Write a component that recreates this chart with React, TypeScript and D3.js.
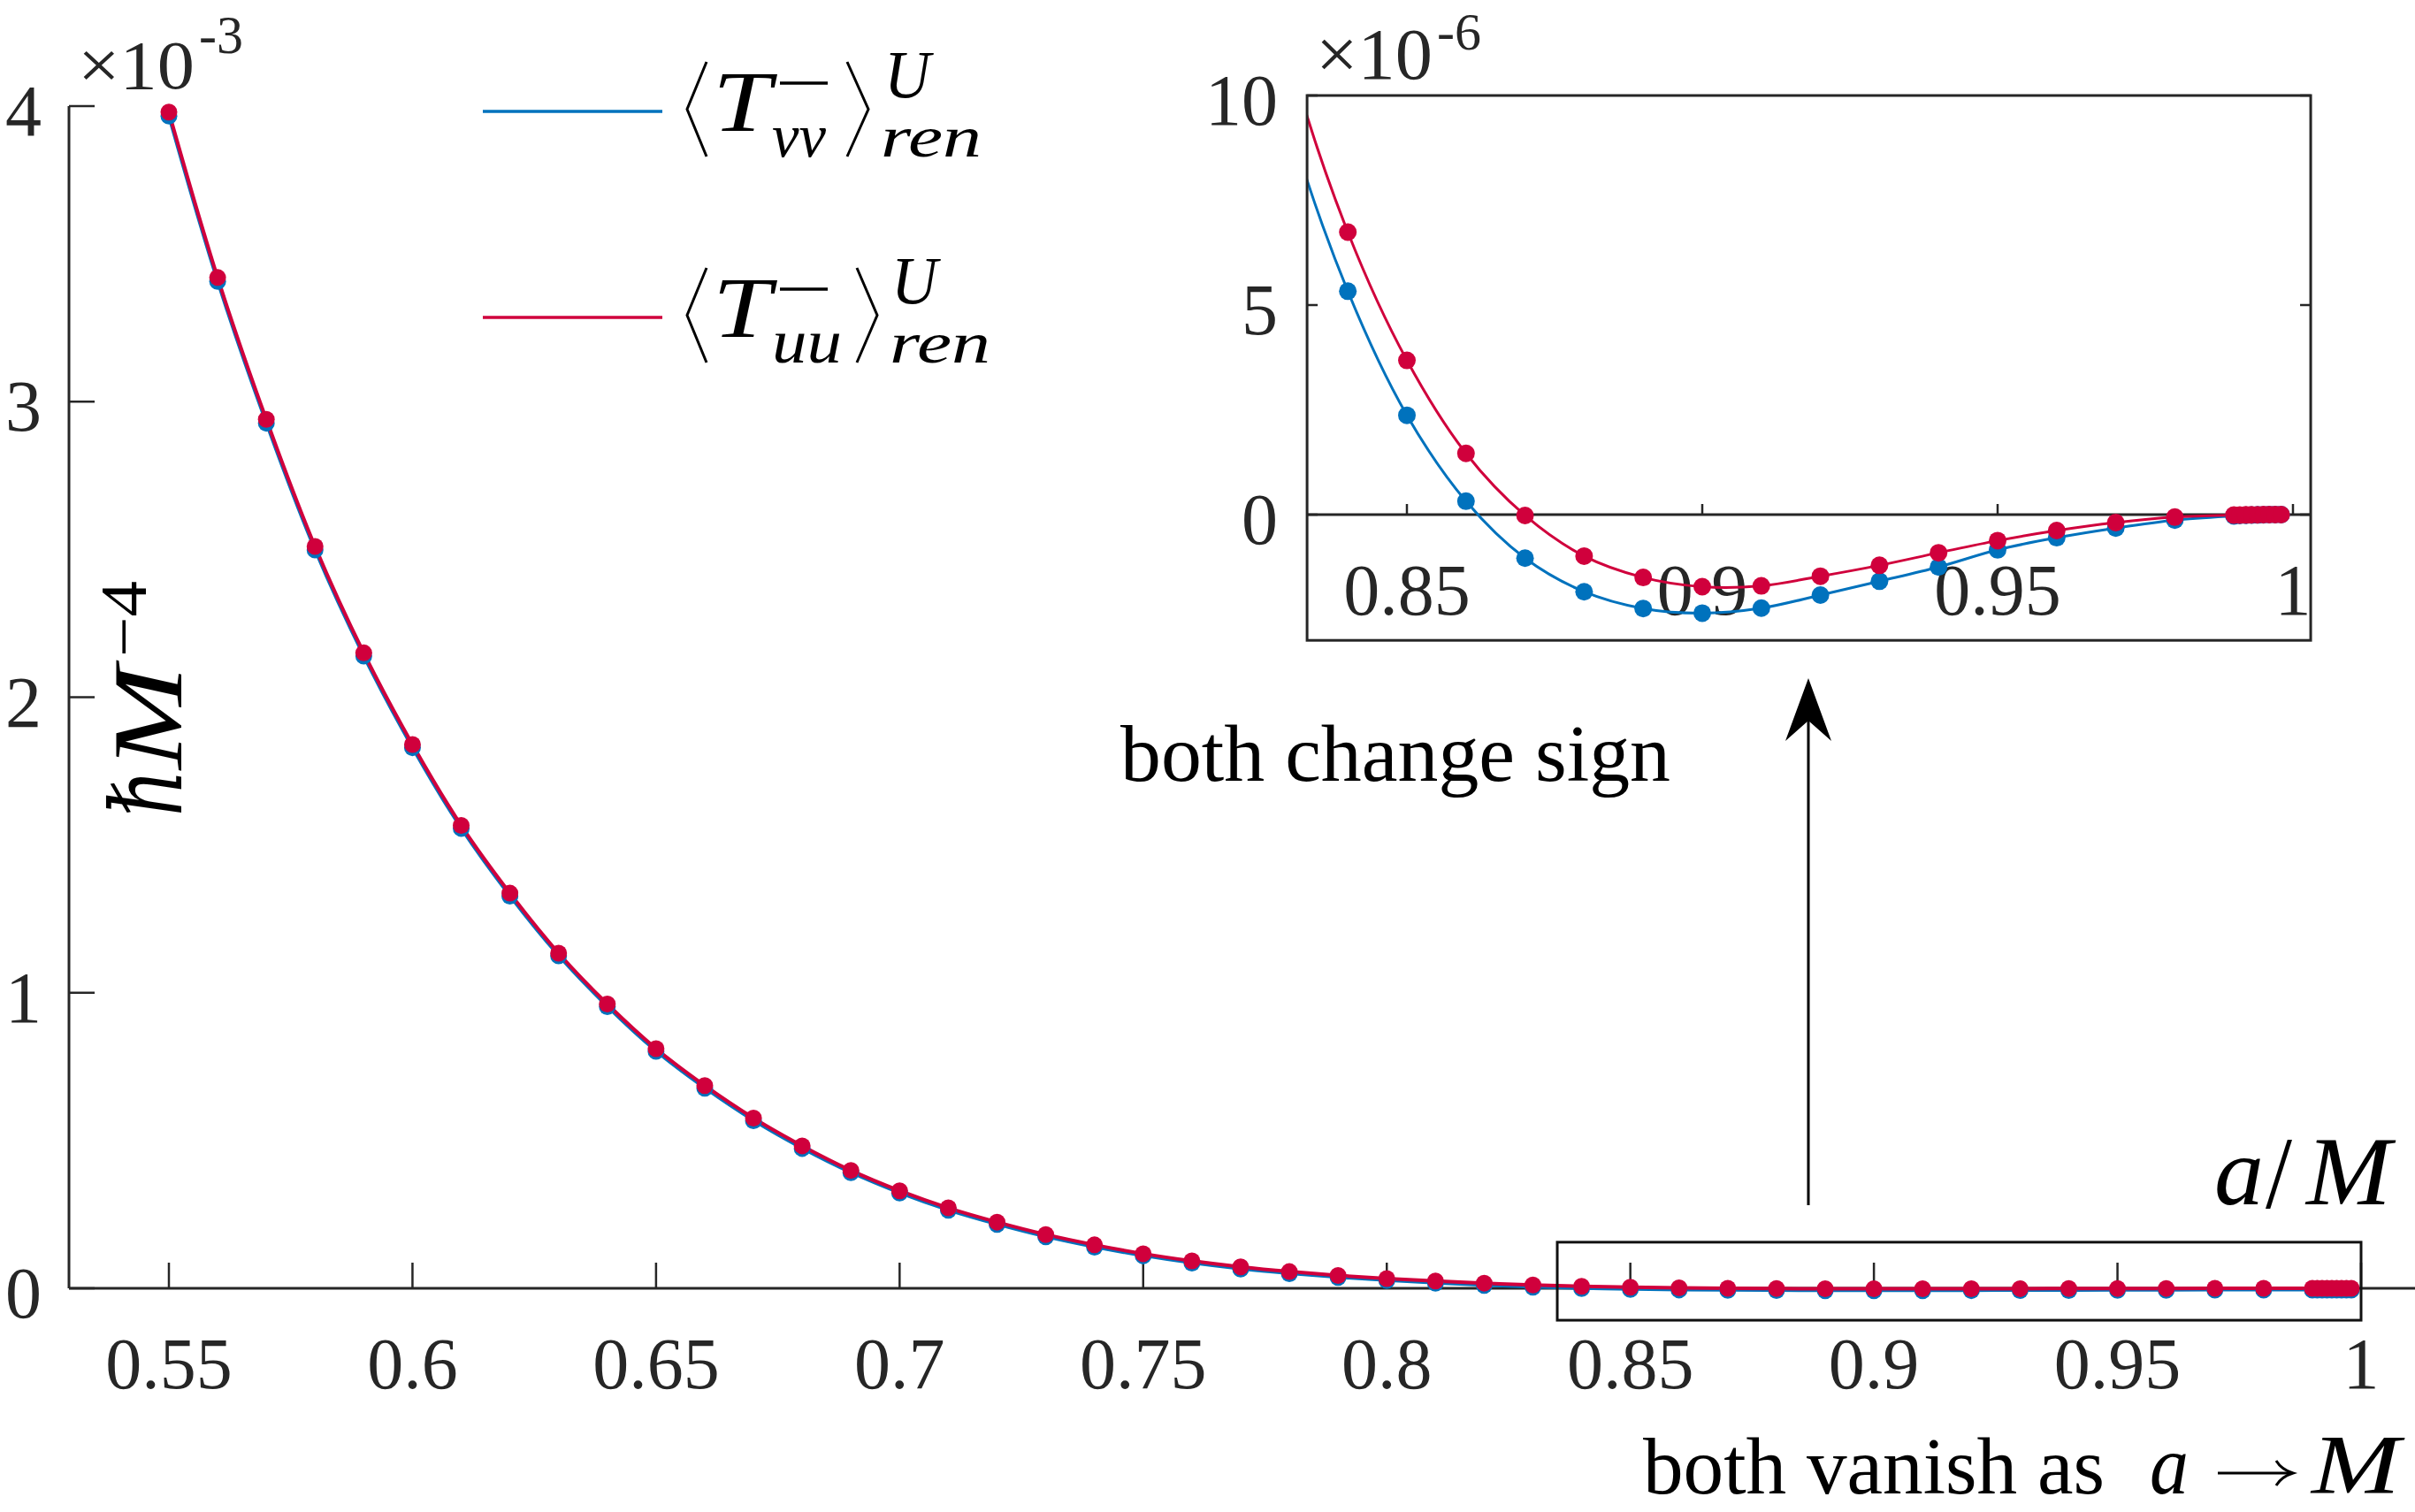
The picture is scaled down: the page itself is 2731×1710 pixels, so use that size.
import React from "react";
import * as d3 from "d3";

// ---------- data ----------
// main part, values in units of 1e-3
const aMain = [0.55, 0.56, 0.57, 0.58, 0.59, 0.6, 0.61, 0.62, 0.63, 0.64, 0.65, 0.66, 0.67, 0.68, 0.69, 0.7, 0.71, 0.72, 0.73, 0.74, 0.75, 0.76, 0.77, 0.78, 0.79, 0.8, 0.81, 0.82, 0.83];
const uuMain = [3.98, 3.42, 2.94, 2.51, 2.15, 1.84, 1.566, 1.337, 1.134, 0.962, 0.811, 0.686, 0.576, 0.482, 0.399, 0.33, 0.272, 0.224, 0.182, 0.147, 0.117, 0.0925, 0.0725, 0.0565, 0.0435, 0.033, 0.0245, 0.0175, 0.011];
const vvMain = [3.972, 3.413, 2.933, 2.504, 2.145, 1.835, 1.562, 1.333, 1.131, 0.959, 0.808, 0.683, 0.573, 0.479, 0.397, 0.328, 0.27, 0.222, 0.18, 0.145, 0.1155, 0.091, 0.071, 0.0553, 0.0423, 0.032, 0.0233, 0.0155, 0.0094];
// tail, values in units of 1e-6
const aTail = [0.84, 0.85, 0.86, 0.87, 0.88, 0.89, 0.9, 0.91, 0.92, 0.93, 0.94, 0.95, 0.96, 0.97, 0.98, 0.99, 0.991, 0.992, 0.993, 0.994, 0.995, 0.996, 0.997, 0.998];
const uuTail = [6.74, 3.68, 1.46, -0.02, -0.99, -1.5, -1.72, -1.7, -1.47, -1.21, -0.91, -0.62, -0.38, -0.19, -0.06, -0.012, -0.009, -0.007, -0.005, -0.003, -0.002, -0.001, -0.0005, -0.0002];
const vvTail = [5.33, 2.37, 0.32, -1.04, -1.84, -2.24, -2.35, -2.23, -1.92, -1.59, -1.25, -0.84, -0.55, -0.32, -0.13, -0.03, -0.022, -0.016, -0.011, -0.007, -0.004, -0.002, -0.001, -0.0004];

const mainXTicks = [0.55, 0.6, 0.65, 0.7, 0.75, 0.8, 0.85, 0.9, 0.95, 1];
const mainXTickLabels = ["0.55", "0.6", "0.65", "0.7", "0.75", "0.8", "0.85", "0.9", "0.95", "1"];
const mainYTicks = [0, 1, 2, 3, 4];
const insetXTicks = [0.85, 0.9, 0.95, 1];
const insetXTickLabels = ["0.85", "0.9", "0.95", "1"];
const insetYTicks = [0, 5, 10];
const insetXLim = [0.8331, 1.003];
const insetYLim = [-3, 10];
const zoomRectX = [0.835, 1.0];
const zoomRectY = [-0.108, 0.156];

const BLUE = "#0072BD";
const RED = "#D0003C";
const AX = "#262626";
const serif = "'Liberation Serif', 'Times New Roman', 'DejaVu Serif', serif";

type P = { a: number; v: number };
const uuSeries: P[] = [
  ...aMain.map((a, i) => ({ a, v: uuMain[i] * 1e-3 })),
  ...aTail.map((a, i) => ({ a, v: uuTail[i] * 1e-6 })),
];
const vvSeries: P[] = [
  ...aMain.map((a, i) => ({ a, v: vvMain[i] * 1e-3 })),
  ...aTail.map((a, i) => ({ a, v: vvTail[i] * 1e-6 })),
];

export default function App() {
  const W = 2731, H = 1710;
  const x = d3.scaleLinear().domain([0.55, 1]).range([191, 2670]);
  const y = d3.scaleLinear().domain([0, 4e-3]).range([1457, 120]);
  const xi = d3.scaleLinear().domain([0.85, 1]).range([1591, 2593]);
  const yi = d3.scaleLinear().domain([0, 10e-6]).range([582, 108]);

  const lineMain = d3.line<P>().x(d => x(d.a)).y(d => y(d.v)).curve(d3.curveCatmullRom);
  const lineIn = d3.line<P>().x(d => xi(d.a)).y(d => yi(d.v)).curve(d3.curveCatmullRom);

  const bx0 = xi(insetXLim[0]), bx1 = xi(insetXLim[1]);
  const by0 = yi(insetYLim[1] * 1e-6), by1 = yi(insetYLim[0] * 1e-6);

  const legendRows = [
    { color: BLUE, sub: "vv", dy: 0, subW: 61, rb: [958, 982], uX: 1000, renX: 996 },
    { color: RED, sub: "uu", dy: 233, subW: 79, rb: [969, 992], uX: 1008, renX: 1006 },
  ];

  return (
    <svg width={W} height={H} style={{ position: "absolute", left: 0, top: 0, display: "block", background: "#fff" }}>
      <defs>
        <clipPath id="insetClip">
          <rect x={bx0} y={by0} width={bx1 - bx0} height={by1 - by0} />
        </clipPath>
      </defs>

      {/* ---------- main axes ---------- */}
      <line x1={78} x2={78} y1={y(4e-3)} y2={y(0)} stroke={AX} strokeWidth={3} />
      <line x1={78} x2={2731} y1={y(0)} y2={y(0)} stroke={AX} strokeWidth={3} />
      {mainYTicks.map(t => (
        <g key={"yt" + t}>
          <line x1={78} x2={107} y1={y(t * 1e-3)} y2={y(t * 1e-3)} stroke={AX} strokeWidth={2.5} />
          <text x={47} y={y(t * 1e-3) + 33} textAnchor="end" fontFamily={serif} fontSize={82} fill={AX}>{t}</text>
        </g>
      ))}
      {mainXTicks.map((t, i) => (
        <g key={"xt" + t}>
          <line x1={x(t)} x2={x(t)} y1={y(0)} y2={y(0) - 29} stroke={AX} strokeWidth={2.5} />
          <text x={x(t)} y={1570} textAnchor="middle" fontFamily={serif} fontSize={82} fill={AX}>{mainXTickLabels[i]}</text>
        </g>
      ))}
      <text x={88} y={100} fontFamily={serif} fontSize={78} fill={AX} textLength={132} lengthAdjust="spacingAndGlyphs">×10</text>
      <text x={225} y={60} fontFamily={serif} fontSize={62} fill={AX} textLength={50} lengthAdjust="spacingAndGlyphs">-3</text>

      {/* y label */}
      <g transform="translate(205,790) rotate(-90)" fontFamily={serif} fill="#000">
        <text x={-133} y={0} fontSize={112} fontStyle="italic" textLength={53} lengthAdjust="spacingAndGlyphs">ℏ</text>
        <text x={-80} y={0} fontSize={112} fontStyle="italic" textLength={117} lengthAdjust="spacingAndGlyphs">M</text>
        <text x={47} y={-40} fontSize={74} textLength={86} lengthAdjust="spacingAndGlyphs">−4</text>
      </g>

      {/* x label */}
      <g fontFamily={serif} fill="#000">
        <text x={2504} y={1362} fontSize={110} fontStyle="italic" textLength={56} lengthAdjust="spacingAndGlyphs">a</text>
        <text x={2562} y={1366} fontSize={116} textLength={30} lengthAdjust="spacingAndGlyphs">/</text>
        <text x={2608} y={1362} fontSize={110} fontStyle="italic" textLength={96} lengthAdjust="spacingAndGlyphs">M</text>
      </g>

      {/* main data */}
      <path d={lineMain(vvSeries) || ""} fill="none" stroke={BLUE} strokeWidth={4} transform="translate(0,1.5)" />
      <path d={lineMain(uuSeries) || ""} fill="none" stroke={RED} strokeWidth={4} />
      {vvSeries.map((d, i) => (
        <circle key={"bm" + i} cx={x(d.a)} cy={y(d.v) + 2} r={9.5} fill={BLUE} />
      ))}
      {uuSeries.map((d, i) => (
        <circle key={"rm" + i} cx={x(d.a)} cy={y(d.v)} r={9.5} fill={RED} />
      ))}

      {/* zoom rectangle */}
      <rect x={x(zoomRectX[0])} y={y(zoomRectY[1] * 1e-3)} width={x(zoomRectX[1]) - x(zoomRectX[0])}
        height={y(zoomRectY[0] * 1e-3) - y(zoomRectY[1] * 1e-3)} fill="none" stroke="#111" strokeWidth={3} />

      {/* legend */}
      {legendRows.map((r, k) => (
        <g key={"lg" + k} fontFamily={serif} fill="#000">
          <line x1={546} x2={749} y1={126 + r.dy} y2={126 + r.dy} stroke={r.color} strokeWidth={3.5} />
          <polyline points={`799,${70 + r.dy} 777,${123.5 + r.dy} 799,${177 + r.dy}`} fill="none" stroke="#000" strokeWidth={3} />
          <text x={806} y={148 + r.dy} fontSize={98} fontStyle="italic" textLength={66} lengthAdjust="spacingAndGlyphs">T</text>
          <line x1={882} x2={936} y1={94 + r.dy} y2={94 + r.dy} stroke="#000" strokeWidth={3.5} />
          <text x={873} y={177 + r.dy} fontSize={69} fontStyle="italic" textLength={r.subW} lengthAdjust="spacingAndGlyphs">{r.sub}</text>
          <polyline points={`${r.rb[0]},${70 + r.dy} ${r.rb[1]},${123.5 + r.dy} ${r.rb[0]},${177 + r.dy}`} fill="none" stroke="#000" strokeWidth={3} />
          <text x={r.uX} y={110 + r.dy} fontSize={76} fontStyle="italic" textLength={52} lengthAdjust="spacingAndGlyphs">U</text>
          <text x={r.renX} y={177 + r.dy} fontSize={66} fontStyle="italic" textLength={114} lengthAdjust="spacingAndGlyphs">ren</text>
        </g>
      ))}

      {/* ---------- inset ---------- */}
      <rect x={bx0} y={by0} width={bx1 - bx0} height={by1 - by0} fill="#fff" stroke="none" />
      {insetXTicks.map((t, i) => (
        <g key={"ixt" + t}>
          <line x1={xi(t)} x2={xi(t)} y1={yi(0)} y2={yi(0) - 12} stroke={AX} strokeWidth={2.5} />
          <text x={xi(t)} y={yi(0) + 113} textAnchor="middle" fontFamily={serif} fontSize={82} fill={AX}>{insetXTickLabels[i]}</text>
        </g>
      ))}
      {insetYTicks.map(t => (
        <g key={"iyt" + t}>
          <line x1={bx0} x2={bx0 + 12} y1={yi(t * 1e-6)} y2={yi(t * 1e-6)} stroke={AX} strokeWidth={2.5} />
          <line x1={bx1} x2={bx1 - 12} y1={yi(t * 1e-6)} y2={yi(t * 1e-6)} stroke={AX} strokeWidth={2.5} />
          <text x={1445} y={yi(t * 1e-6) + 33} textAnchor="end" fontFamily={serif} fontSize={82} fill={AX}>{t}</text>
        </g>
      ))}
      <line x1={bx0} x2={bx1} y1={yi(0)} y2={yi(0)} stroke={AX} strokeWidth={3} />
      <g clipPath="url(#insetClip)">
        <path d={lineIn(vvSeries) || ""} fill="none" stroke={BLUE} strokeWidth={3} />
        <path d={lineIn(uuSeries) || ""} fill="none" stroke={RED} strokeWidth={3} />
        {vvSeries.filter(d => d.a >= 0.835).map((d, i) => (
          <circle key={"ibm" + i} cx={xi(d.a)} cy={yi(d.v)} r={10} fill={BLUE} />
        ))}
        {uuSeries.filter(d => d.a >= 0.835).map((d, i) => (
          <circle key={"irm" + i} cx={xi(d.a)} cy={yi(d.v)} r={10} fill={RED} />
        ))}
      </g>
      <rect x={bx0} y={by0} width={bx1 - bx0} height={by1 - by0} fill="none" stroke={AX} strokeWidth={3} />
      <text x={1488} y={89} fontFamily={serif} fontSize={82} fill={AX} textLength={132} lengthAdjust="spacingAndGlyphs">×10</text>
      <text x={1625} y={56} fontFamily={serif} fontSize={60} fill={AX} textLength={50} lengthAdjust="spacingAndGlyphs">-6</text>

      {/* ---------- annotations ---------- */}
      <line x1={2045} x2={2045} y1={1363} y2={800} stroke="#000" strokeWidth={3} />
      <path d="M2045,767 L2071,838 L2045,815 L2019,838 Z" fill="#000" />
      <text x={1267} y={883} fontFamily={serif} fontSize={90} fill="#000" textLength={622} lengthAdjust="spacingAndGlyphs">both change sign</text>
      <g fontFamily={serif} fill="#000">
        <text x={1858} y={1689} fontSize={90} textLength={522} lengthAdjust="spacingAndGlyphs">both vanish as</text>
        <text x={2431} y={1689} fontSize={96} fontStyle="italic" textLength={44} lengthAdjust="spacingAndGlyphs">a</text>
        <line x1={2508} x2={2590} y1={1666} y2={1666} stroke="#000" strokeWidth={3} />
        <path d="M2574,1652 Q2580,1662 2593,1666 Q2580,1670 2574,1680" fill="none" stroke="#000" strokeWidth={3} />
        <text x={2614} y={1689} fontSize={96} fontStyle="italic" textLength={100} lengthAdjust="spacingAndGlyphs">M</text>
      </g>
    </svg>
  );
}
